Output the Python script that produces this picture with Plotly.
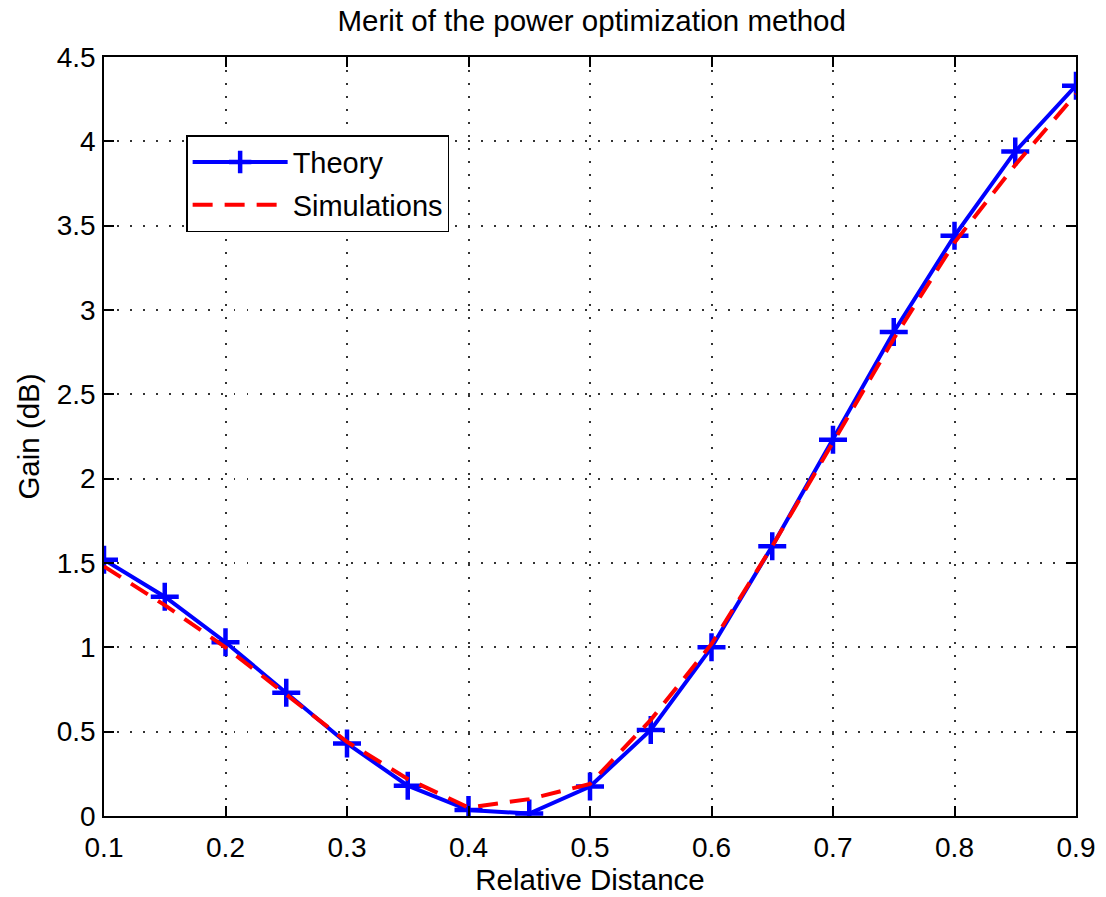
import plotly.graph_objects as go

x_vals = [0.1, 0.15, 0.2, 0.25, 0.3, 0.35, 0.4, 0.45, 0.5, 0.55, 0.6, 0.65, 0.7, 0.75, 0.8, 0.85, 0.9]
theory = [1.52, 1.30, 1.03, 0.73, 0.43, 0.18, 0.035, 0.015, 0.175, 0.51, 1.0, 1.60, 2.23, 2.87, 3.44, 3.94, 4.33]
simulations = [1.48, 1.25, 1.0, 0.72, 0.44, 0.22, 0.05, 0.10, 0.19, 0.57, 1.02, 1.60, 2.22, 2.83, 3.40, 3.86, 4.28]
x_ticks = [0.1, 0.2, 0.3, 0.4, 0.5, 0.6, 0.7, 0.8, 0.9]
y_ticks = [0, 0.5, 1, 1.5, 2, 2.5, 3, 3.5, 4, 4.5]

FONT = "Liberation Sans, Arial, Helvetica"

fig = go.Figure()
fig.add_trace(go.Scatter(
    x=x_vals, y=theory, name="Theory", mode="lines+markers", legendgroup="a",
    line=dict(color="#0000ff", width=4),
    marker=dict(symbol="cross-thin", size=20, line=dict(color="#0000ff", width=4.5)),
))
fig.add_trace(go.Scatter(
    x=x_vals, y=simulations, name="Simulations", mode="lines", legendgroup="b",
    line=dict(color="#ff0000", width=4, dash="20px,12px"),
))

axis_common = dict(
    showline=True, linecolor="black", linewidth=1.5, mirror="allticks",
    ticks="inside", ticklen=10, tickcolor="black", tickwidth=1.5,
    showgrid=True, gridcolor="#333333", griddash="1.5px,11.5px", gridwidth=1.5,
    zeroline=False,
    tickfont=dict(family=FONT, size=28, color="black"),
)

fig.update_xaxes(range=[0.1, 0.9], tickvals=x_ticks, ticktext=[str(v) for v in x_ticks],
                 ticklabelstandoff=6,
                 title=dict(text="Relative Distance", font=dict(family=FONT, size=29.5, color="black"), standoff=2),
                 **axis_common)
fig.update_yaxes(range=[0, 4.5], tickvals=y_ticks, ticktext=[("%g" % v) for v in y_ticks],
                 ticklabelstandoff=1,
                 title=dict(text="Gain (dB)", font=dict(family=FONT, size=29.5, color="black"), standoff=8),
                 **axis_common)

fig.update_layout(
    width=1106, height=897,
    margin=dict(l=104, r=30, t=57, b=81),
    paper_bgcolor="white", plot_bgcolor="white",
    title=dict(text="Merit of the power optimization method", x=0.535, xanchor="center",
               y=0.977, yanchor="middle",
               font=dict(family=FONT, size=29.5, color="black")),
    legend=dict(x=0.0845, y=0.897, xanchor="left", yanchor="top",
                bgcolor="white", bordercolor="black", borderwidth=1.5,
                font=dict(family=FONT, size=29, color="black"),
                itemwidth=95, tracegroupgap=2, traceorder="grouped"),
    showlegend=True,
)

fig.write_html("out.html")
